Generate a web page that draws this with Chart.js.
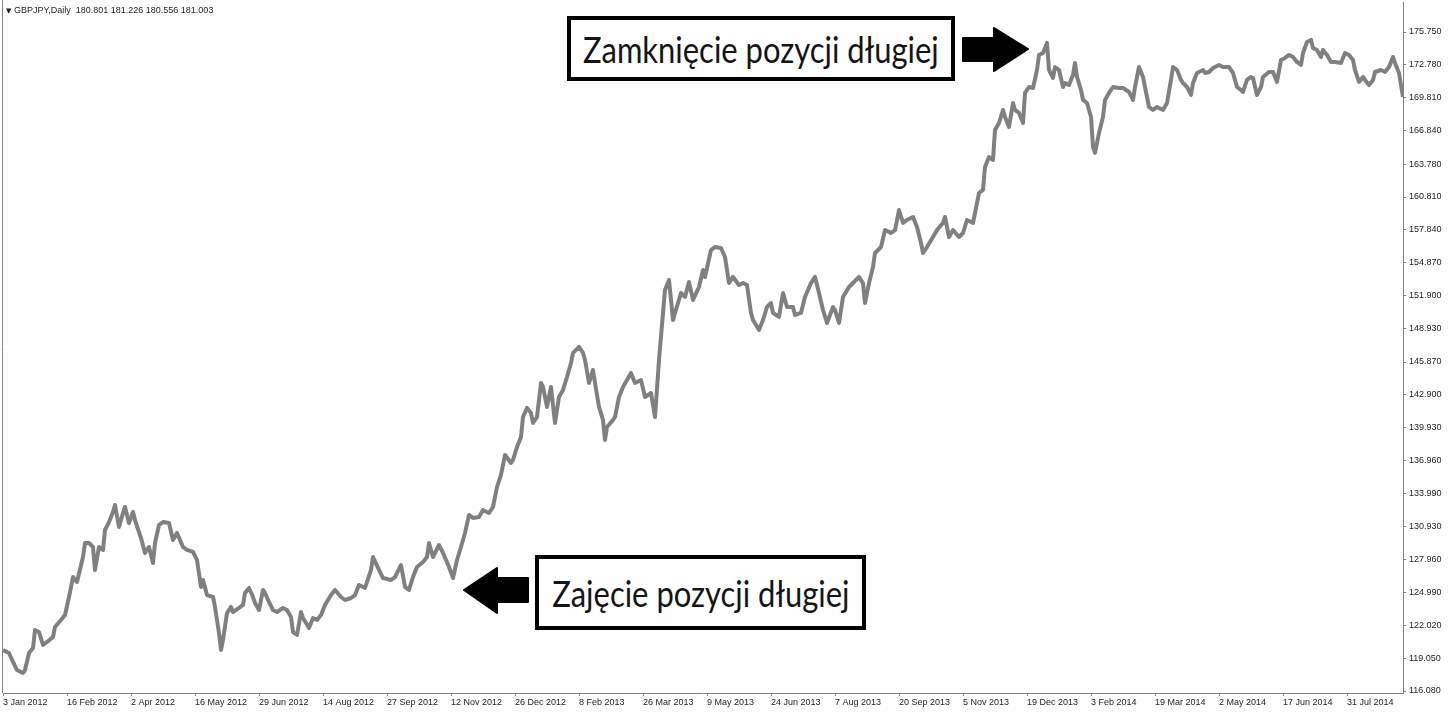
<!DOCTYPE html>
<html lang="pl">
<head>
<meta charset="utf-8">
<title>GBPJPY Daily</title>
<script src="https://cdn.jsdelivr.net/npm/chart.js@4.4.1/dist/chart.umd.min.js"></script>
<style>
  body { margin: 0; background: #fff; }
  #wrap { position: relative; width: 1449px; height: 714px; overflow: hidden; }
  #chartBox { position: absolute; left: 0; top: 0; width: 1449px; height: 714px; }
  .info { position: absolute; left: 6px; top: 5px; font: 9px "Liberation Sans", Arial, sans-serif; color: #222; white-space: pre; }
  .info b { font-size: 7px; font-weight: normal; font-family: "DejaVu Sans", sans-serif; }
  .caixa { position: absolute; box-sizing: border-box; border: 4px solid #000; background: #fff;
           display: flex; align-items: center; justify-content: center; }
  .caixa span { font: 36px Lato, "Noto Sans", sans-serif; color: #151515; display: inline-block;
                white-space: nowrap; transform: scaleX(0.86); }
  #setas { position: absolute; left: 0; top: 0; }
</style>
</head>
<body>
<div id="wrap">
  <div id="chartBox"><canvas id="graphics"></canvas></div>
  <div class="info"><b>▼</b> GBPJPY,Daily  180.801 181.226 180.556 181.003</div>
  <div class="caixa" style="left:567px; top:16px; width:388px; height:65px;"><span>Zamknięcie pozycji długiej</span></div>
  <div class="caixa" style="left:535px; top:555px; width:331px; height:75px;"><span>Zajęcie pozycji długiej</span></div>
  <svg id="setas" width="1449" height="714">
    <polygon points="963,38 994,38 994,28 1028,49 994,71 994,61 963,61" fill="#000" stroke="#000" stroke-linejoin="round" stroke-width="2"/>
    <polygon points="528,578 497,578 497,568 464,590 497,613 497,602 528,602" fill="#000" stroke="#000" stroke-linejoin="round" stroke-width="2"/>
  </svg>
</div>
<script>
// indice da barra diaria (0 = 3 Jan 2012) e cotacao
const barras = [
  0, 3, 5, 7, 10, 11, 13, 15, 16, 18, 20, 22, 25, 26, 29, 31, 33, 35, 37, 40,
  41, 43, 45, 46, 48, 50, 51, 53, 55, 56, 58, 60, 61, 63, 65, 66, 69, 71, 73, 75,
  76, 78, 80, 83, 85, 87, 90, 92, 95, 97, 99, 100, 102, 105, 106, 108, 109, 110, 112, 114,
  115, 118, 120, 121, 123, 125, 126, 128, 130, 131, 133, 135, 137, 140, 142, 144, 145, 147, 149, 150,
  153, 155, 157, 159, 161, 164, 166, 169, 171, 174, 176, 178, 181, 184, 185, 188, 190, 194, 196, 199,
  201, 203, 205, 207, 210, 212, 213, 215, 218, 220, 223, 225, 227, 229, 231, 233, 235, 238, 240, 243,
  245, 247, 249, 251, 254, 255, 257, 259, 260, 262, 264, 265, 267, 269, 270, 272, 274, 276, 278, 280,
  282, 284, 285, 288, 290, 291, 293, 295, 296, 298, 300, 301, 302, 305, 306, 308, 310, 312, 314, 316,
  319, 321, 324, 326, 328, 330, 331, 333, 335, 336, 339, 341, 343, 345, 348, 350, 351, 354, 356, 359,
  361, 363, 365, 368, 370, 372, 374, 375, 378, 380, 382, 384, 385, 388, 390, 392, 395, 396, 399, 401,
  404, 406, 408, 410, 412, 415, 416, 418, 420, 423, 425, 428, 430, 431, 433, 435, 436, 439, 441, 444,
  446, 448, 450, 452, 455, 457, 459, 460, 462, 465, 467, 470, 471, 473, 475, 478, 480, 482, 485, 486,
  488, 490, 491, 493, 495, 496, 498, 500, 501, 503, 505, 506, 508, 510, 511, 513, 515, 517, 518, 520,
  521, 522, 523, 525, 526, 528, 530, 531, 533, 535, 536, 537, 539, 540, 542, 544, 545, 546, 548, 550,
  551, 553, 555, 558, 560, 563, 565, 566, 568, 570, 571, 573, 575, 577, 580, 582, 584, 585, 587, 589,
  590, 592, 594, 595, 597, 600, 601, 603, 605, 608, 610, 613, 615, 617, 619, 620, 622, 624, 625, 627,
  629, 630, 633, 635, 637, 639, 641, 643, 645, 647, 649, 650, 652, 654, 655, 657, 659, 660, 662, 664,
  666, 669, 671, 673, 675, 676, 678, 680, 681, 683, 685, 686, 689, 691, 693, 695, 696, 698, 700
];
const precos = [
  119.79, 119.52, 118.71, 117.98, 117.71, 117.98, 119.52, 119.97, 121.60, 121.42, 120.25, 120.52, 120.97, 121.88, 122.51, 122.96, 124.59, 126.40, 125.95, 128.21,
  129.48, 129.48, 129.12, 127.04, 129.12, 128.85, 130.66, 131.38, 132.29, 132.92, 130.93, 132.20, 132.74, 131.29, 132.29, 131.56, 129.93, 128.58, 129.12, 127.67,
  129.48, 131.11, 131.38, 131.29, 129.75, 130.39, 129.12, 128.85, 128.67, 127.94, 125.50, 126.13, 124.77, 124.59, 123.69, 121.33, 119.79, 120.70, 123.14, 123.69,
  123.23, 123.60, 123.87, 124.95, 125.41, 124.59, 124.05, 123.41, 125.23, 124.95, 124.14, 123.41, 123.23, 123.60, 123.41, 122.78, 121.42, 121.15, 123.23, 122.69,
  121.78, 122.69, 122.51, 122.96, 123.87, 124.77, 125.23, 124.59, 124.32, 124.50, 124.77, 125.68, 125.41, 127.04, 128.21, 127.04, 126.31, 126.13, 126.40, 127.49,
  125.50, 125.23, 126.40, 127.31, 127.76, 128.21, 129.48, 128.21, 129.30, 128.58, 127.31, 126.31, 127.94, 129.12, 130.39, 132.02, 131.75, 131.84, 132.47, 132.20,
  132.74, 134.55, 135.64, 137.45, 136.73, 137.00, 138.17, 139.08, 140.89, 141.71, 141.25, 140.35, 140.89, 143.97, 143.61, 141.80, 143.61, 140.35, 142.70, 143.34,
  144.51, 145.78, 146.69, 147.23, 146.69, 146.05, 143.97, 145.15, 143.97, 141.80, 140.62, 138.81, 139.99, 140.62, 140.89, 142.70, 143.61, 144.24, 144.88, 143.97,
  144.24, 142.70, 143.06, 140.89, 146.05, 150.31, 152.39, 153.30, 149.67, 150.31, 152.12, 151.76, 153.12, 151.49, 152.66, 154.20, 153.57, 156.01, 156.28, 156.19,
  155.38, 153.02, 153.57, 152.84, 153.02, 152.84, 150.31, 149.67, 148.77, 149.67, 150.85, 151.21, 150.31, 149.95, 152.12, 150.85, 150.85, 150.13, 150.31, 151.76,
  153.02, 153.57, 152.12, 150.58, 149.40, 150.85, 150.58, 149.40, 151.76, 152.66, 153.02, 153.57, 153.02, 151.21, 153.02, 154.47, 155.74, 156.28, 157.82, 157.55,
  157.82, 159.63, 158.46, 158.73, 159.00, 158.10, 156.65, 155.74, 156.28, 157.19, 157.82, 158.46, 159.00, 157.19, 157.82, 157.19, 157.55, 158.73, 158.46, 159.36,
  161.17, 161.45, 163.53, 164.43, 164.16, 166.88, 167.51, 168.69, 168.06, 167.15, 169.32, 168.69, 168.42, 167.51, 170.23, 170.77, 170.68, 172.31, 173.67, 173.85,
  174.30, 174.76, 172.31, 171.59, 172.58, 172.31, 170.77, 171.13, 170.95, 171.86, 172.95, 171.68, 170.50, 169.60, 169.32, 168.06, 165.34, 164.80, 166.61, 168.06,
  169.60, 170.23, 170.77, 170.68, 170.68, 170.32, 169.60, 170.77, 172.58, 171.68, 170.77, 168.96, 168.69, 168.96, 168.69, 169.32, 171.41, 172.58, 172.31, 171.41,
  171.13, 170.77, 170.05, 171.13, 172.04, 172.31, 172.04, 172.13, 172.49, 172.77, 172.58, 172.58, 172.04, 170.77, 170.50, 170.32, 171.41, 171.68, 171.59, 170.05,
  170.77, 171.68, 172.13, 172.13, 171.23, 173.22, 173.40, 173.67, 173.49, 173.04, 172.77, 173.85, 174.85, 175.03, 174.30, 174.12, 173.49, 174.12, 173.67, 173.04,
  173.04, 172.95, 173.85, 173.67, 173.22, 172.31, 171.23, 171.68, 171.41, 170.95, 171.41, 172.13, 172.31, 172.13, 172.58, 173.49, 172.95, 172.04, 169.87
];

// eixo das datas: posicao (indice da barra) e rotulo
const posicoesDatas = [0, 32, 64, 96, 128, 160, 192, 224, 256, 288, 320, 352, 384, 416, 448, 480, 512, 544, 576, 608, 640, 672];
const rotulosDatas = [
  "3 Jan 2012", "16 Feb 2012", "2 Apr 2012", "16 May 2012", "29 Jun 2012", "14 Aug 2012", "27 Sep 2012", "12 Nov 2012",
  "26 Dec 2012", "8 Feb 2013", "26 Mar 2013", "9 May 2013", "24 Jun 2013", "7 Aug 2013", "20 Sep 2013", "5 Nov 2013",
  "19 Dec 2013", "3 Feb 2014", "19 Mar 2014", "2 May 2014", "17 Jun 2014", "31 Jul 2014"
];

// eixo de precos
const niveisPreco = [
  116.08, 119.05, 122.02, 124.99, 127.96, 130.93, 133.99, 136.96, 139.93, 142.9, 145.87,
  148.93, 151.9, 154.87, 157.84, 160.81, 163.78, 166.84, 169.81, 172.78, 175.75
];

const fonteEixo = { family: "'Liberation Sans', Arial, sans-serif", size: 9 };

// linha da esquerda do quadro
const moldura = {
  id: "moldura",
  afterDraw(chart) {
    const { ctx, chartArea } = chart;
    ctx.save();
    ctx.strokeStyle = "#808080";
    ctx.lineWidth = 1;
    ctx.beginPath();
    ctx.moveTo(chartArea.left - 0.5, 0);
    ctx.lineTo(chartArea.left - 0.5, chartArea.bottom);
    ctx.stroke();
    ctx.restore();
  },
};

const ctx = document.getElementById("graphics").getContext("2d");

new Chart(ctx, {
  type: "line",
  data: {
    datasets: [
      {
        data: barras.map((b, i) => ({ x: b, y: precos[i] })),
        borderColor: "#808080",
        borderWidth: 4,
        borderJoinStyle: "round",
        pointRadius: 0,
        tension: 0,
      },
    ],
  },
  options: {
    responsive: true,
    maintainAspectRatio: false,
    animation: false,
    layout: { padding: { left: 3, top: 2, right: 0, bottom: 0 } },
    plugins: { legend: { display: false }, tooltip: { enabled: false } },
    scales: {
      x: {
        type: "linear",
        min: 0,
        max: 700,
        afterBuildTicks: (s) => {
          s.ticks = posicoesDatas.map((v) => ({ value: v }));
        },
        afterFit: (s) => {
          s.height = 21;
          s.paddingLeft = 0;
          s.paddingRight = 0;
        },
        ticks: {
          autoSkip: false,
          maxRotation: 0,
          align: "start",
          padding: 1,
          color: "#222",
          font: fonteEixo,
          callback: (v) => rotulosDatas[posicoesDatas.indexOf(v)],
        },
        grid: { drawOnChartArea: false, tickLength: 3, color: "#808080" },
        border: { color: "#808080", width: 1 },
      },
      y: {
        position: "right",
        min: 115.899,
        max: 178.467,
        afterBuildTicks: (s) => {
          s.ticks = niveisPreco.map((v) => ({ value: v }));
        },
        afterFit: (s) => {
          s.width = 46;
          s.paddingTop = 0;
          s.paddingBottom = 0;
        },
        ticks: {
          autoSkip: false,
          padding: 3,
          color: "#222",
          font: fonteEixo,
          callback: (v) => v.toFixed(3),
        },
        grid: { drawOnChartArea: false, tickLength: 3, color: "#808080" },
        border: { color: "#808080", width: 1 },
      },
    },
  },
  plugins: [moldura],
});
</script>
</body>
</html>
